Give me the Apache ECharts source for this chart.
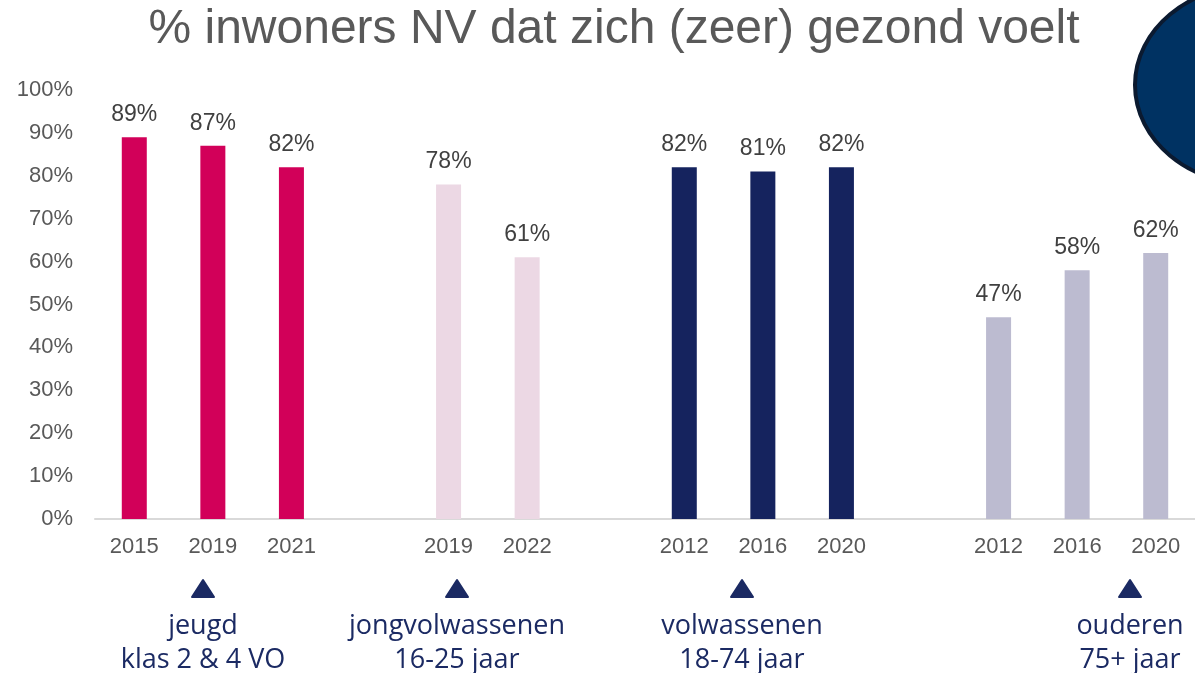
<!DOCTYPE html>
<html>
<head>
<meta charset="utf-8">
<script src="https://cdn.jsdelivr.net/npm/echarts@6/dist/echarts.min.js"></script>
<style>
  html, body { margin: 0; padding: 0; background: #fff; }
  #chart { width: 1195px; height: 673px; }
</style>
</head>
<body>
<div id="chart"></div>
<script>
// groups: years and % that feels (very) healthy
const jeugdYears = ['2015', '2019', '2021']
const jeugdValues = [89, 87, 82]
const jongYears = ['2019', '2022']
const jongValues = [78, 61]
const volwYears = ['2012', '2016', '2020']
const volwValues = [82, 81, 82]
const oudYears = ['2012', '2016', '2020']
const oudValues = [47, 58, 62]

const yTicks = [0, 10, 20, 30, 40, 50, 60, 70, 80, 90, 100]

const groups = [
    { name: 'jeugd', years: jeugdYears, values: jeugdValues, color: '#d20059' },
    { name: 'jongvolwassenen', years: jongYears, values: jongValues, color: '#ecd8e4' },
    { name: 'volwassenen', years: volwYears, values: volwValues, color: '#15235e' },
    { name: 'ouderen', years: oudYears, values: oudValues, color: '#bcbbd0' }
]

// one empty slot between groups
const categories = []
const slots = []
groups.forEach(function (g, gi) {
    if (gi > 0) { categories.push(''); slots.push(null) }
    g.years.forEach(function (y, i) {
        categories.push(y)
        slots.push({ group: gi, value: g.values[i] })
    })
})

const series = groups.map(function (g, gi) {
    return {
        name: g.name,
        type: 'bar',
        barWidth: 25,
        barGap: '-100%',
        itemStyle: { color: g.color },
        label: {
            show: true,
            position: 'top',
            distance: 11,
            formatter: '{c}%',
            color: '#404040',
            fontSize: 23,
            fontFamily: 'Liberation Sans'
        },
        data: slots.map(function (s) { return s && s.group === gi ? s.value : null }),
        animation: false
    }
})

const navy = '#1b2a63'
const labelFont = 'Open Sans'
function marker(cx, l1, l2) {
    return [
        { type: 'polygon', shape: { points: [[cx, 580], [cx - 11, 597], [cx + 11, 597]] },
          style: { fill: navy, stroke: navy, lineWidth: 2, lineJoin: 'round' } },
        { type: 'text', x: cx, y: 626,
          style: { text: l1, fill: navy, font: '27px "' + labelFont + '"', align: 'center', verticalAlign: 'middle' } },
        { type: 'text', x: cx, y: 660,
          style: { text: l2, fill: navy, font: '27px "' + labelFont + '"', align: 'center', verticalAlign: 'middle' } }
    ]
}

const chart = echarts.init(document.getElementById('chart'))
chart.setOption({
    backgroundColor: '#fff',
    grid: { left: 95, top: 90, width: 1107, height: 429 },
    xAxis: {
        type: 'category',
        data: categories,
        axisLine: { lineStyle: { color: '#d9d9d9', width: 2 } },
        axisTick: { show: false },
        axisLabel: { color: '#595959', fontSize: 22, fontFamily: 'Liberation Sans', margin: 17, interval: 0 }
    },
    yAxis: {
        type: 'value',
        min: yTicks[0],
        max: yTicks[yTicks.length - 1],
        interval: 10,
        splitLine: { show: false },
        axisLine: { show: false },
        axisTick: { show: false },
        axisLabel: { color: '#595959', fontSize: 22, fontFamily: 'Liberation Sans', margin: 22, formatter: '{value}%' }
    },
    series: series,
    graphic: [
        { type: 'ellipse', shape: { cx: 1255, cy: 85, rx: 120, ry: 100 },
          style: { fill: '#003262', stroke: '#0b1a30', lineWidth: 4 } },
        { type: 'text', x: 614, y: 30,
          style: { text: '% inwoners NV dat zich (zeer) gezond voelt', fill: '#595959',
                   font: '48px "Liberation Sans"', align: 'center', verticalAlign: 'middle' } }
    ].concat(
        marker(203, 'jeugd', 'klas 2 & 4 VO'),
        marker(457, 'jongvolwassenen', '16-25 jaar'),
        marker(742, 'volwassenen', '18-74 jaar'),
        marker(1130, 'ouderen', '75+ jaar')
    )
})
</script>
</body>
</html>
